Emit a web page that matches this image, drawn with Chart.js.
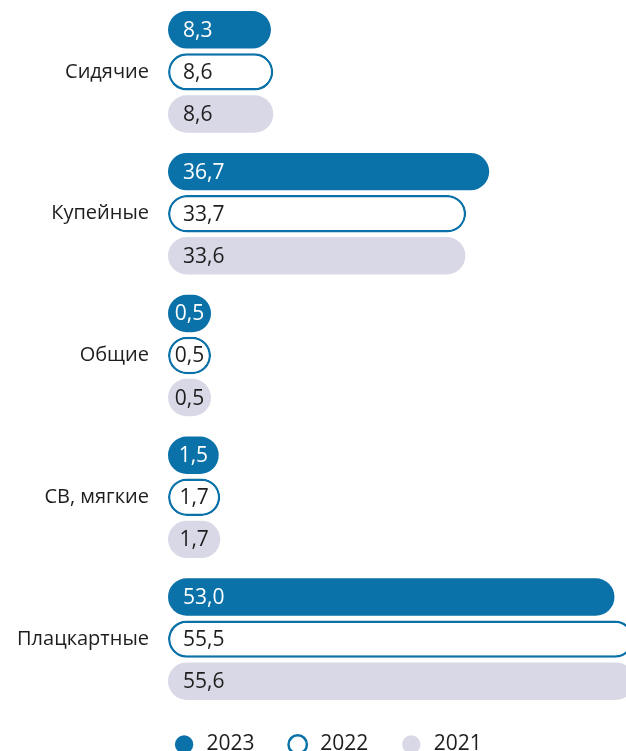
<!DOCTYPE html>
<html>
<head>
<meta charset="utf-8">
<script src="https://cdn.jsdelivr.net/npm/chart.js@4/dist/chart.umd.min.js"></script>
<style>
  html, body { margin: 0; padding: 0; background: #fff; }
  #wrap { width: 626px; height: 751px; position: relative; overflow: hidden; }
</style>
</head>
<body>
<div id="wrap"><canvas id="chart" width="626" height="765"></canvas></div>
<script>
// Car types and yearly values (%)
const categories = ['Сидячие', 'Купейные', 'Общие', 'СВ, мягкие', 'Плацкартные'];
const values2023 = [8.3, 36.7, 0.5, 1.5, 53.0];
const values2022 = [8.6, 33.7, 0.5, 1.7, 55.5];
const values2021 = [8.6, 33.6, 0.5, 1.7, 55.6];
const years = ['2023', '2022', '2021'];

const BLUE = '#0a72a8';
const LIGHT = '#d9d8e7';
const TEXT = '#1e1e1e';
const FONT = "'Open Sans', sans-serif";
// bars start a little left of zero so small values still fit their label
const BAR_START = -5.1;
const LEGEND_SHIFT = 23;

function fmt(v) {
    return v.toFixed(1).replace('.', ',');
}

// Draw value labels inside the bars: left-aligned, or centred in short bars
const barLabels = {
    id: 'barLabels',
    afterDatasetsDraw(chart) {
        const ctx = chart.ctx;
        ctx.save();
        ctx.font = '21px ' + FONT;
        ctx.textBaseline = 'middle';
        ctx.textAlign = 'left';
        chart.data.datasets.forEach((ds, i) => {
            const meta = chart.getDatasetMeta(i);
            meta.data.forEach((bar, j) => {
                const text = fmt(ds.data[j]);
                const w = ctx.measureText(text).width;
                const mid = (bar.base + bar.x) / 2;
                const x = Math.min(bar.base + 15, mid - w / 2);
                ctx.fillStyle = i === 0 ? '#ffffff' : TEXT;
                ctx.fillText(text, x, bar.y + 1);
            });
        });
        ctx.restore();
    }
};

// Legend sits a bit right of the canvas centre in the original
const legendShift = {
    id: 'legendShift',
    afterLayout(chart) {
        chart.legend.left += LEGEND_SHIFT;
        chart.legend.right += LEGEND_SHIFT;
    }
};

const ctx = document.getElementById('chart').getContext('2d');
new Chart(ctx, {
    type: 'bar',
    data: {
        labels: categories,
        datasets: [{
            label: years[0],
            data: values2023,
            backgroundColor: BLUE,
            borderColor: BLUE,
            borderWidth: 0
        }, {
            label: years[1],
            data: values2022,
            backgroundColor: '#ffffff',
            borderColor: BLUE,
            borderWidth: 2.5
        }, {
            label: years[2],
            data: values2021,
            backgroundColor: LIGHT,
            borderColor: LIGHT,
            borderWidth: 0
        }]
    },
    options: {
        indexAxis: 'y',
        responsive: false,
        animation: false,
        maintainAspectRatio: false,
        layout: { padding: { top: 1, right: 0, bottom: 0, left: 0 } },
        datasets: {
            bar: {
                base: BAR_START,
                borderRadius: 20,
                borderSkipped: false,
                categoryPercentage: 0.89,
                barPercentage: 0.89
            }
        },
        scales: {
            x: {
                display: false,
                min: BAR_START,
                max: 54.5
            },
            y: {
                grid: { display: false, drawTicks: false },
                border: { display: false },
                ticks: {
                    color: TEXT,
                    font: { family: FONT, size: 20 },
                    padding: 19
                },
                afterFit(scale) {
                    scale.width = 168;
                    scale.paddingTop = 0;
                    scale.paddingBottom = 0;
                }
            }
        },
        plugins: {
            tooltip: { enabled: false },
            legend: {
                position: 'bottom',
                labels: {
                    usePointStyle: true,
                    pointStyle: 'circle',
                    boxWidth: 13,
                    boxHeight: 13,
                    padding: 24,
                    color: TEXT,
                    font: { family: FONT, size: 21 },
                    generateLabels(chart) {
                        return chart.data.datasets.map((ds, i) => ({
                            text: ' ' + ds.label + '\u2002\u200A',
                            fillStyle: ds.backgroundColor,
                            strokeStyle: ds.borderColor,
                            lineWidth: i === 1 ? 2.5 : 0,
                            pointStyle: 'circle',
                            fontColor: TEXT,
                            hidden: false,
                            datasetIndex: i
                        }));
                    }
                }
            }
        }
    },
    plugins: [barLabels, legendShift]
});
</script>
</body>
</html>
